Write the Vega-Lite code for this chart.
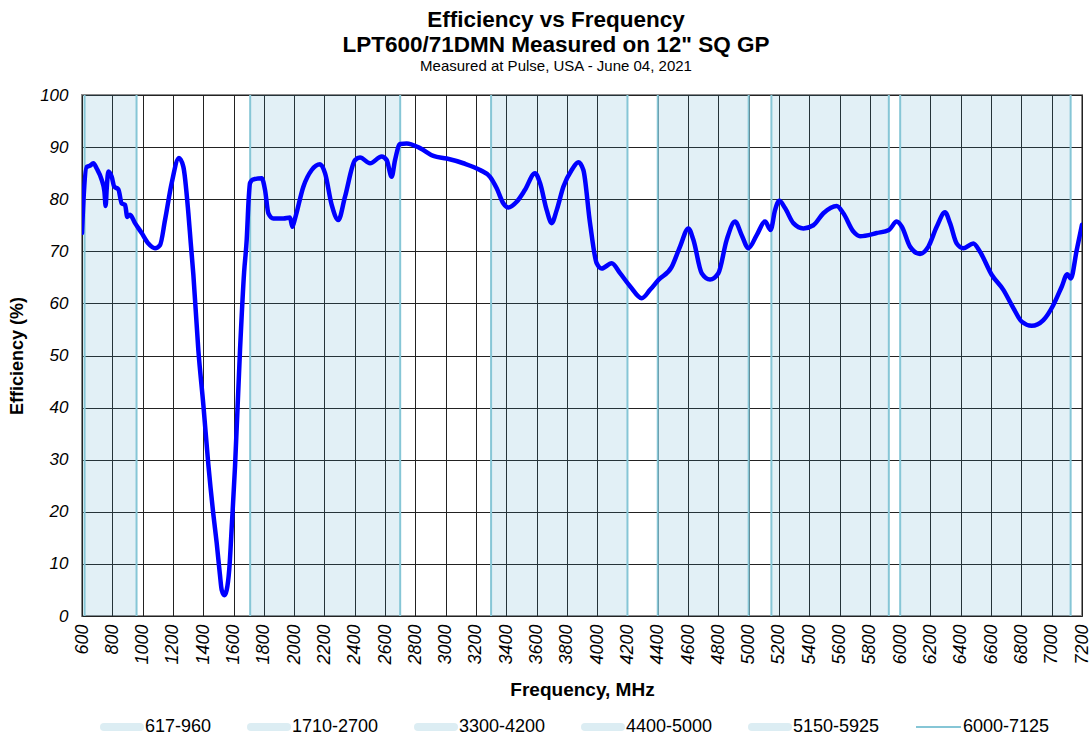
{
  "$schema": "https://vega.github.io/schema/vega-lite/v6.json",
  "width": 1000,
  "height": 521,
  "autosize": {"type": "none"},
  "padding": {"left": 82, "top": 95, "right": 9, "bottom": 122},
  "background": "white",
  "config": {
    "font": "Liberation Sans",
    "view": {"stroke": "#8a8a8a", "strokeWidth": 2},
    "axisX": {
      "title": "Frequency, MHz",
      "format": "d",
      "labelAngle": -90,
      "labelFont": "Liberation Sans",
      "labelFontStyle": "italic",
      "labelFontSize": 18,
      "labelColor": "#000000",
      "labelPadding": 8,
      "labelFlush": false,
      "labelOverlap": false,
      "labelBound": false,
      "ticks": false,
      "domain": false,
      "grid": true,
      "gridColor": "#222222",
      "gridWidth": 1,
      "gridOpacity": 1,
      "titleFont": "Liberation Sans",
      "titleFontSize": 19,
      "titleFontWeight": "bold",
      "titleColor": "#000000",
      "titlePadding": 16
    },
    "axisY": {
      "labelFont": "Liberation Sans",
      "labelFontStyle": "italic",
      "labelFontSize": 17,
      "labelColor": "#000000",
      "labelPadding": 14,
      "ticks": false,
      "domain": false,
      "grid": true,
      "gridColor": "#222222",
      "gridWidth": 1,
      "gridOpacity": 1,
      "titleFont": "Liberation Sans",
      "titleFontSize": 18,
      "titleFontWeight": "bold",
      "titleColor": "#000000",
      "titlePadding": 13
    },
    "legend": {
      "title": null,
      "orient": "none",
      "direction": "horizontal",
      "padding": 0,
      "labelFont": "Liberation Sans",
      "labelFontSize": 18,
      "labelColor": "#000000",
      "symbolType": "stroke"
    }
  },
  "title": {
    "text": ["Efficiency vs Frequency", "LPT600/71DMN Measured on 12\" SQ GP"],
    "subtitle": "Measured at Pulse, USA - June 04, 2021",
    "font": "Liberation Sans",
    "fontSize": 22.5,
    "fontWeight": "bold",
    "lineHeight": 25,
    "color": "#000000",
    "subtitleFont": "Liberation Sans",
    "subtitleFontSize": 15,
    "subtitleColor": "#000000",
    "subtitlePadding": 3,
    "anchor": "middle",
    "frame": "group",
    "dx": -26,
    "offset": 12
  },
  "datasets": {
    "bands": [
      {"band": "617-960", "start": 617, "end": 960},
      {"band": "1710-2700", "start": 1710, "end": 2700},
      {"band": "3300-4200", "start": 3300, "end": 4200},
      {"band": "4400-5000", "start": 4400, "end": 5000},
      {"band": "5150-5925", "start": 5150, "end": 5925},
      {"band": "6000-7125", "start": 6000, "end": 7125}
    ],
    "curve": [
      {"f": 600, "eff": 73.5}, {"f": 612, "eff": 81}, {"f": 631, "eff": 86.2}, {"f": 652, "eff": 86.4},
      {"f": 675, "eff": 86.9}, {"f": 697, "eff": 85.9}, {"f": 730, "eff": 83.7}, {"f": 748, "eff": 81.5},
      {"f": 756, "eff": 78.7}, {"f": 763, "eff": 82}, {"f": 774, "eff": 85.3}, {"f": 796, "eff": 84.3},
      {"f": 813, "eff": 82.4}, {"f": 840, "eff": 81.9}, {"f": 862, "eff": 79.2}, {"f": 884, "eff": 78.9},
      {"f": 899, "eff": 76.6}, {"f": 917, "eff": 77.0}, {"f": 950, "eff": 75.4}, {"f": 994, "eff": 73.5},
      {"f": 1038, "eff": 71.5}, {"f": 1082, "eff": 70.6}, {"f": 1115, "eff": 71.2}, {"f": 1148, "eff": 76.0},
      {"f": 1192, "eff": 83.1}, {"f": 1240, "eff": 87.9}, {"f": 1269, "eff": 86.2}, {"f": 1302, "eff": 77.3},
      {"f": 1318, "eff": 71.5}, {"f": 1335, "eff": 65.5}, {"f": 1368, "eff": 51.0}, {"f": 1401, "eff": 40.5},
      {"f": 1434, "eff": 29.0}, {"f": 1467, "eff": 19.5}, {"f": 1489, "eff": 14.0}, {"f": 1510, "eff": 8.0},
      {"f": 1522, "eff": 5.0}, {"f": 1540, "eff": 4.0}, {"f": 1555, "eff": 5.0}, {"f": 1572, "eff": 9.0},
      {"f": 1590, "eff": 18.0}, {"f": 1610, "eff": 28.7}, {"f": 1643, "eff": 51.1}, {"f": 1670, "eff": 66.0},
      {"f": 1687, "eff": 72.2}, {"f": 1700, "eff": 80.0}, {"f": 1709, "eff": 83.1}, {"f": 1731, "eff": 83.8},
      {"f": 1786, "eff": 84.0}, {"f": 1808, "eff": 81.8}, {"f": 1830, "eff": 77.3}, {"f": 1863, "eff": 76.3},
      {"f": 1929, "eff": 76.3}, {"f": 1973, "eff": 76.5}, {"f": 1988, "eff": 74.7}, {"f": 2006, "eff": 76.3},
      {"f": 2061, "eff": 82.4}, {"f": 2116, "eff": 85.6}, {"f": 2171, "eff": 86.7}, {"f": 2204, "eff": 85.0},
      {"f": 2248, "eff": 78.9}, {"f": 2292, "eff": 76.0}, {"f": 2336, "eff": 80.5}, {"f": 2402, "eff": 87.5},
      {"f": 2435, "eff": 88.0}, {"f": 2501, "eff": 86.9}, {"f": 2578, "eff": 88.2}, {"f": 2611, "eff": 87.5},
      {"f": 2644, "eff": 84.3}, {"f": 2666, "eff": 87.5}, {"f": 2699, "eff": 90.6}, {"f": 2743, "eff": 90.7},
      {"f": 2831, "eff": 89.8}, {"f": 2919, "eff": 88.3}, {"f": 3007, "eff": 87.8}, {"f": 3117, "eff": 86.9},
      {"f": 3227, "eff": 85.6}, {"f": 3293, "eff": 84.3}, {"f": 3337, "eff": 82.1}, {"f": 3381, "eff": 79.2},
      {"f": 3414, "eff": 78.4}, {"f": 3469, "eff": 79.5}, {"f": 3524, "eff": 81.8}, {"f": 3590, "eff": 85.0},
      {"f": 3623, "eff": 83.1}, {"f": 3667, "eff": 77.9}, {"f": 3700, "eff": 75.4}, {"f": 3733, "eff": 77.9},
      {"f": 3777, "eff": 82.4}, {"f": 3832, "eff": 85.6}, {"f": 3876, "eff": 87.1}, {"f": 3909, "eff": 85.6},
      {"f": 3953, "eff": 75.4}, {"f": 3997, "eff": 67.7}, {"f": 4030, "eff": 66.7}, {"f": 4096, "eff": 67.7},
      {"f": 4151, "eff": 65.8}, {"f": 4217, "eff": 63.3}, {"f": 4294, "eff": 61.0}, {"f": 4349, "eff": 62.6},
      {"f": 4404, "eff": 64.5}, {"f": 4492, "eff": 67.0}, {"f": 4547, "eff": 70.9}, {"f": 4602, "eff": 74.4},
      {"f": 4635, "eff": 72.2}, {"f": 4690, "eff": 65.8}, {"f": 4745, "eff": 64.6}, {"f": 4800, "eff": 65.8},
      {"f": 4855, "eff": 72.2}, {"f": 4910, "eff": 75.7}, {"f": 4954, "eff": 73.1}, {"f": 4998, "eff": 70.6},
      {"f": 5053, "eff": 73.1}, {"f": 5108, "eff": 75.7}, {"f": 5145, "eff": 74.1}, {"f": 5174, "eff": 77.9},
      {"f": 5202, "eff": 79.7}, {"f": 5240, "eff": 78.3}, {"f": 5295, "eff": 75.4}, {"f": 5361, "eff": 74.4},
      {"f": 5427, "eff": 75.0}, {"f": 5493, "eff": 77.3}, {"f": 5581, "eff": 78.7}, {"f": 5625, "eff": 77.3},
      {"f": 5691, "eff": 73.8}, {"f": 5735, "eff": 72.9}, {"f": 5845, "eff": 73.5}, {"f": 5926, "eff": 74.1},
      {"f": 5977, "eff": 75.7}, {"f": 6011, "eff": 74.7}, {"f": 6065, "eff": 70.9}, {"f": 6131, "eff": 69.5},
      {"f": 6186, "eff": 70.9}, {"f": 6241, "eff": 74.7}, {"f": 6296, "eff": 77.5}, {"f": 6329, "eff": 75.4},
      {"f": 6373, "eff": 71.5}, {"f": 6417, "eff": 70.6}, {"f": 6483, "eff": 71.5}, {"f": 6527, "eff": 69.9},
      {"f": 6604, "eff": 65.5}, {"f": 6681, "eff": 62.6}, {"f": 6747, "eff": 59.1}, {"f": 6802, "eff": 56.5},
      {"f": 6868, "eff": 55.7}, {"f": 6945, "eff": 56.8}, {"f": 7011, "eff": 59.7}, {"f": 7066, "eff": 63.2},
      {"f": 7103, "eff": 65.6}, {"f": 7126, "eff": 64.8}, {"f": 7165, "eff": 70.2}, {"f": 7200, "eff": 75.1}
    ]
  },
  "layer": [
    {
      "data": {"name": "bands"},
      "mark": {"type": "rect", "fillOpacity": 0.15},
      "encoding": {
        "x": {
          "field": "start",
          "type": "quantitative",
          "scale": {"domain": [600, 7200], "nice": false, "zero": false},
          "axis": {"title": "Frequency, MHz", "values": [600, 800, 1000, 1200, 1400, 1600, 1800, 2000, 2200, 2400, 2600, 2800, 3000, 3200, 3400, 3600, 3800, 4000, 4200, 4400, 4600, 4800, 5000, 5200, 5400, 5600, 5800, 6000, 6200, 6400, 6600, 6800, 7000, 7200]}
        },
        "x2": {"field": "end"},
        "fill": {
          "field": "band",
          "type": "nominal",
          "sort": null,
          "scale": {"range": ["#3e9bc3", "#3e9bc3", "#3e9bc3", "#3e9bc3", "#3e9bc3", "#3e9bc3"]},
          "legend": {
            "values": ["617-960", "1710-2700", "3300-4200", "4400-5000", "5150-5925"],
            "legendX": 18,
            "legendY": 610,
            "columns": 5,
            "columnPadding": 23,
            "symbolType": "stroke",
            "symbolSize": 1296,
            "symbolStrokeWidth": 8,
            "labelOffset": 1,
            "encode": {
              "symbols": {
                "update": {
                  "stroke": {"value": "#dcedf3"},
                  "strokeWidth": {"value": 8},
                  "strokeCap": {"value": "round"},
                  "opacity": {"value": 1},
                  "strokeOpacity": {"value": 1},
                  "fillOpacity": {"value": 0}
                }
              }
            }
          }
        }
      }
    },
    {
      "data": {"name": "bands"},
      "mark": {"type": "rule", "strokeWidth": 2},
      "encoding": {
        "x": {"field": "start", "type": "quantitative", "axis": {"title": "Frequency, MHz", "values": [600, 800, 1000, 1200, 1400, 1600, 1800, 2000, 2200, 2400, 2600, 2800, 3000, 3200, 3400, 3600, 3800, 4000, 4200, 4400, 4600, 4800, 5000, 5200, 5400, 5600, 5800, 6000, 6200, 6400, 6600, 6800, 7000, 7200]}},
        "stroke": {
          "datum": "6000-7125",
          "type": "nominal",
          "scale": {"range": ["#86c6d6"]},
          "legend": {
            "legendX": 833,
            "legendY": 608.5,
            "symbolType": "stroke",
            "symbolSize": 2025,
            "symbolStrokeWidth": 2,
            "labelOffset": 1,
            "encode": {
              "symbols": {
                "update": {
                  "stroke": {"value": "#86c6d6"},
                  "strokeWidth": {"value": 2},
                  "strokeCap": {"value": "butt"},
                  "opacity": {"value": 1},
                  "strokeOpacity": {"value": 1}
                }
              }
            }
          }
        }
      }
    },
    {
      "data": {"name": "bands"},
      "mark": {"type": "rule", "strokeWidth": 2},
      "encoding": {
        "x": {"field": "end", "type": "quantitative", "axis": {"title": "Frequency, MHz", "values": [600, 800, 1000, 1200, 1400, 1600, 1800, 2000, 2200, 2400, 2600, 2800, 3000, 3200, 3400, 3600, 3800, 4000, 4200, 4400, 4600, 4800, 5000, 5200, 5400, 5600, 5800, 6000, 6200, 6400, 6600, 6800, 7000, 7200]}},
        "stroke": {"datum": "6000-7125", "type": "nominal"}
      }
    },
    {
      "data": {"name": "curve"},
      "mark": {"type": "line", "interpolate": "monotone", "color": "#0000ff", "strokeWidth": 4.5, "strokeCap": "round", "strokeJoin": "round", "clip": true},
      "encoding": {
        "x": {"field": "f", "type": "quantitative", "axis": {"title": "Frequency, MHz", "values": [600, 800, 1000, 1200, 1400, 1600, 1800, 2000, 2200, 2400, 2600, 2800, 3000, 3200, 3400, 3600, 3800, 4000, 4200, 4400, 4600, 4800, 5000, 5200, 5400, 5600, 5800, 6000, 6200, 6400, 6600, 6800, 7000, 7200]}},
        "y": {
          "field": "eff",
          "type": "quantitative",
          "scale": {"domain": [0, 100], "nice": false, "zero": true},
          "axis": {"title": "Efficiency (%)", "values": [0, 10, 20, 30, 40, 50, 60, 70, 80, 90, 100]}
        }
      }
    }
  ]
}
